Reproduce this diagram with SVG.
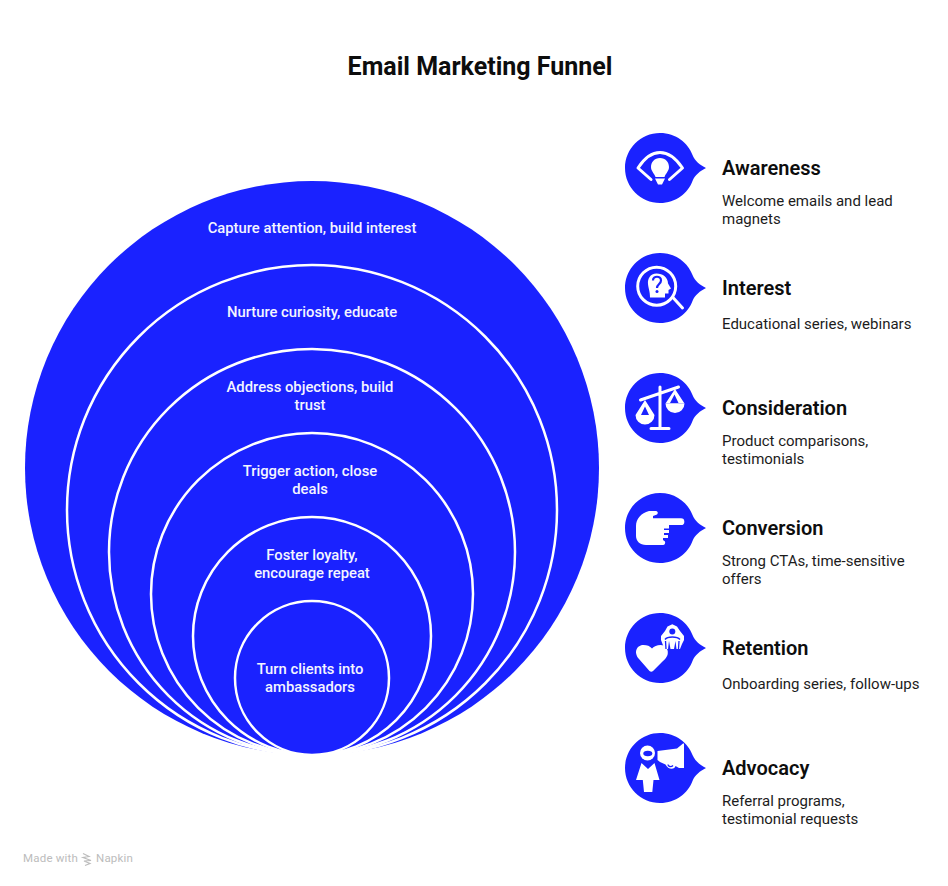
<svg xmlns="http://www.w3.org/2000/svg" width="948" height="886" viewBox="0 0 948 886">
<style>
text{font-family:Roboto,"Liberation Sans",sans-serif}
.title{font-size:25px;font-weight:700;fill:#0d0d0d;text-anchor:middle}
.ring{fill:#1a22ff;stroke:#fff;stroke-width:2.5}
.rt{font-size:14.8px;font-weight:500;fill:#f4f5ff;text-anchor:middle}
.h{font-size:20px;font-weight:600;fill:#0d0d0d}
.d{font-size:15px;fill:#1c1c1c}
.bub{fill:#1a22ff}
.w{fill:#fff}
.b{fill:#1a22ff}
.l{fill:none;stroke:#fff;stroke-width:3;stroke-linecap:round;stroke-linejoin:round}
.wm{font-size:11.5px;fill:#bcbcbc;letter-spacing:.2px}
</style>
<defs>
<path id="bubble" d="M660 133C676 133 688 143 692.500 155C695 161 700 165 706 168C700 171 695 175 692.500 181C688 193 676 203 660 203C640.700 203 625 187.300 625 168C625 148.700 640.700 133 660 133Z"/>
</defs>
<rect width="948" height="886" fill="#fff"/>
<text class="title" x="480" y="75">Email Marketing Funnel</text>
<g id="funnel">
<circle cx="312" cy="468" r="287" fill="#1a22ff"/>
<circle class="ring" cx="312" cy="510" r="245"/>
<circle class="ring" cx="312" cy="552" r="203"/>
<circle class="ring" cx="312" cy="594" r="161"/>
<circle class="ring" cx="312" cy="636" r="119"/>
<circle class="ring" cx="312" cy="678" r="77"/>
<text class="rt" x="312" y="233">Capture attention, build interest</text>
<text class="rt" x="312" y="317">Nurture curiosity, educate</text>
<text class="rt" x="310" y="392">Address objections, build</text>
<text class="rt" x="310" y="410">trust</text>
<text class="rt" x="310" y="476">Trigger action, close</text>
<text class="rt" x="310" y="494">deals</text>
<text class="rt" x="312" y="560">Foster loyalty,</text>
<text class="rt" x="312" y="578">encourage repeat</text>
<text class="rt" x="310" y="674">Turn clients into</text>
<text class="rt" x="310" y="692">ambassadors</text>
</g>
<g id="connectors"/>
<g id="node-awareness">
<use class="bub" href="#bubble"/>
<path class="l" d="M651 179.500L638 168Q648 152.500 660 152.500Q672 152.500 682.500 168L669.500 179.500"/>
<path class="w" d="M660 158C654.500 158 651 162 651 167C651 171 654 173 655.500 177L664.500 177C666 173 669 171 669 167C669 162 665.500 158 660 158ZM655 178.500L665 178.500L663.500 181.500L662 184.500L658 184.500L656.500 181.500Z"/>
<text class="h" x="722" y="175">Awareness</text>
<text class="d" x="722" y="206">Welcome emails and lead</text>
<text class="d" x="722" y="224">magnets</text>
</g>
<g id="node-interest" transform="translate(0,120)">
<use class="bub" href="#bubble"/>
<circle class="l" cx="656.700" cy="166.200" r="19"/>
<path class="l" d="M672.500 177L682.500 188"/>
<path class="w" d="M656.500 153.500C650 153.500 647.500 159 648 164C648.500 169 650 171 650 177.500L665 177.500L665 173.500L668.500 173.500L668.500 170L671 168.500L668 163.500C668 157.500 663 153.500 656.500 153.500Z"/>
<path d="M653 160.500C653 155.500 661 155.500 661 160.500C661 164 657 164 657 168" fill="none" stroke="#1a22ff" stroke-width="2.200"/>
<circle class="b" cx="657" cy="171.500" r="1.500"/>
<text class="h" x="722" y="175">Interest</text>
<text class="d" x="722" y="209">Educational series, webinars</text>
</g>
<g id="node-consideration" transform="translate(0,240)">
<use class="bub" href="#bubble"/>
<path class="l" d="M640.500 160L678.500 147M660 147L660 188.500M651 188.500L669 188.500"/>
<path class="w" d="M645 160L635.500 175L654.500 175ZM675 149L665.500 163.500L684.500 163.500Z"/>
<path class="b" d="M645 166.500L641 175L649 175ZM674.500 154.500L670 163L678.500 163Z"/>
<path class="w" d="M635.500 175A9.500 9.500 0 0 0 654.500 175ZM665.500 163.500A9.500 9.500 0 0 0 684.500 163.500Z"/>
<text class="h" x="722" y="175">Consideration</text>
<text class="d" x="722" y="206">Product comparisons,</text>
<text class="d" x="722" y="224">testimonials</text>
</g>
<g id="node-conversion" transform="translate(0,360)">
<use class="bub" href="#bubble"/>
<path class="w" d="M649 151C641 153 636 159 636 166L636 176C636 181 640 185 646 185L663 185C665 185 665.500 183 665 181.500L663 180L663 178L668 178L668 175L664 175L664 173L669 173L669 170L664 170L664 168.500L669 168.500L669 165L681 165A3.300 3.300 0 0 0 681 158.300L653 158.300L653 156L657 154.500C658.500 153 658 151 655 151Z"/>
<text class="h" x="722" y="175">Conversion</text>
<text class="d" x="722" y="206">Strong CTAs, time-sensitive</text>
<text class="d" x="722" y="224">offers</text>
</g>
<g id="node-retention" transform="translate(0,480)">
<use class="bub" href="#bubble"/>
<path class="w" d="M649.500 191L639 179C633 172 637 165 643.500 165C647 165 650 166 652 168.500C654 166.500 657 165 660.500 165C666 165 669 170 667.500 175C666.500 178 664 180 662 182L653 191C652 192 650.500 192 649.500 191Z"/>
<path class="w" d="M672.300 144.300L677 146.500L680 151L684 156L684 160L682 164L680 169L676.500 169L675.500 161L674 169L670.500 169L669 161L668 169L664.500 169L662.500 164L661 160L661 156L665 151L667.500 146.500Z"/>
<circle class="b" cx="672.300" cy="151.500" r="3"/>
<path d="M665 159.500C667.500 156.300 677 156.300 680 159.500" fill="none" stroke="#1a22ff" stroke-width="1.500"/>
<path d="M665.500 161L666 169M679 161L678.500 169" fill="none" stroke="#1a22ff" stroke-width="1.300"/>
<text class="h" x="722" y="175">Retention</text>
<text class="d" x="722" y="209">Onboarding series, follow-ups</text>
</g>
<g id="node-advocacy" transform="translate(0,600)">
<use class="bub" href="#bubble"/>
<circle class="w" cx="647.500" cy="153" r="7.500"/>
<ellipse class="b" cx="647.800" cy="153.500" rx="4.500" ry="2.800"/>
<path class="w" d="M641.500 163L648 169L654.500 163L659.500 180L653.500 180L652.300 192L644 192L642.800 180L636 180Z"/>
<path class="w" d="M657.500 151L677 148.500L683 143.500L684 143.500L684 168L679 168L675.500 166C675 169.500 668 170 665.500 164.500L660 162L657.500 160Z"/>
<path d="M668 164.500C668 166.500 671 167.500 673 165.500" fill="none" stroke="#1a22ff" stroke-width="1.300"/>
<text class="h" x="722" y="175">Advocacy</text>
<text class="d" x="722" y="206">Referral programs,</text>
<text class="d" x="722" y="224">testimonial requests</text>
</g>
<g id="watermark">
<text class="wm" x="23" y="862">Made with</text>
<path d="M83 853.500L89 856.500L83 857.500L91 860.500L84 861L90 863.500L85 865.500" fill="none" stroke="#bcbcbc" stroke-width="1.200"/>
<text class="wm" x="96" y="862">Napkin</text>
</g>
</svg>
